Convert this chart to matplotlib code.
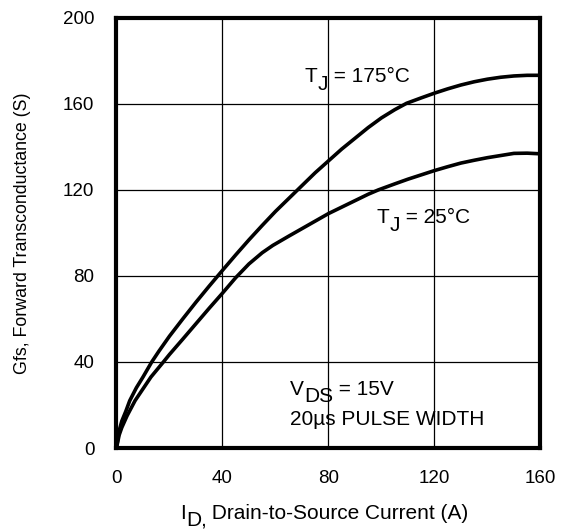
import matplotlib.pyplot as plt

plt.rcParams['font.family'] = ['Liberation Sans', 'DejaVu Sans']

# values
id_175 = [0, 1, 2, 3.5, 5, 7.5, 10, 13.3, 16, 20, 25, 30, 35, 40, 45, 50, 55, 60, 65, 70,
          75, 80, 85, 90, 95, 100, 105, 109.5, 115, 120, 125, 130, 135, 140, 145, 150, 155, 160]
gfs_175 = [0, 8, 12.5, 17, 22, 28, 33, 40, 45, 52, 60, 67.8, 75.3, 82.6, 89.8, 96.8, 103.5, 110, 116, 122,
           128, 133.5, 139, 144, 149, 153.5, 157.3, 160.3, 162.8, 165, 167, 168.8, 170.3, 171.5, 172.4, 173, 173.3, 173.3]

id_25 = [0, 1, 2, 4, 7, 10, 13, 17.7, 20, 25, 30, 35, 40, 45, 50, 55, 59, 65, 70, 75, 80,
         85, 90, 95, 98.8, 105, 110, 115, 120, 125, 130, 135, 140, 145, 150, 155, 160]
gfs_25 = [0, 6, 9.5, 15, 22, 27.5, 33, 40, 43.5, 50.6, 57.8, 65, 72, 79.2, 85.6, 90.8, 94.2, 98.5, 102, 105.5, 109,
          112, 115, 118, 120, 122.8, 125, 127, 129, 130.8, 132.5, 133.8, 135, 136, 137, 137.1, 136.8]

xticks = [0, 40, 80, 120, 160]
yticks = [0, 40, 80, 120, 160, 200]

fig = plt.figure(figsize=(5.66, 5.31), dpi=100)
ax = fig.add_axes([0.2058, 0.1563, 0.749, 0.81])

ax.plot(id_175, gfs_175, color='black', lw=2.6, solid_joinstyle='round')
ax.plot(id_25, gfs_25, color='black', lw=2.6, solid_joinstyle='round')

ax.set_xlim(0, 160)
ax.set_ylim(0, 200)
ax.set_xticks(xticks)
ax.set_yticks(yticks)
ax.grid(True, color='black', lw=0.9)
ax.tick_params(length=0, labelsize=13.5)
ax.tick_params(axis='x', pad=16)
ax.tick_params(axis='y', pad=16)
for s in ax.spines.values():
    s.set_linewidth(3)

ax.set_ylabel('Gfs, Forward Transconductance (S)', fontsize=12.8, labelpad=23)

renderer = fig.canvas.get_renderer()


def pieces(x, y, parts, transform, size=15):
    # parts: list of (text, drop in pixels); y is the baseline
    x0, y0 = transform.transform((x, y))
    for s, drop in parts:
        t = fig.text(x0, y0 - drop, s, fontsize=size, va='baseline',
                     transform=None)
        bb = t.get_window_extent(renderer)
        x0 = bb.x1


pieces(71.1, 170.4, [('T', 0), ('J', 8), (' = 175°C', 0)], ax.transData)
pieces(98.2, 104.5, [('T', 0), ('J', 8), (' = 25°C', 0)], ax.transData)
pieces(65.5, 24.7, [('V', 0), ('DS', 7), (' = 15V', 0)], ax.transData)
ax.text(65.5, 10.7, '20µs PULSE WIDTH', fontsize=15, va='baseline')

# x axis label with subscript
pieces(180 / 566, 1 - 519 / 531, [('I', 0), ('D,', 7), (' Drain-to-Source Current (A)', 0)], fig.transFigure)

fig.savefig('out.png', dpi=100)
